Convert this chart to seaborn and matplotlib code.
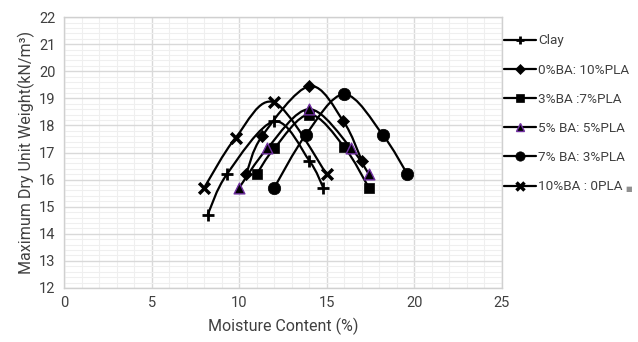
import numpy as np
import pandas as pd
import matplotlib
matplotlib.use("Agg")
import matplotlib.pyplot as plt
import seaborn as sns
from matplotlib.path import Path
from matplotlib.patches import PathPatch
from matplotlib.lines import Line2D
from matplotlib.ticker import MultipleLocator

# data
series_names = ['Clay', '0%BA: 10%PLA', '3%BA :7%PLA', '5% BA: 5%PLA', '7% BA: 3%PLA', '10%BA : 0PLA']

clay_x = [8.2, 9.3, 12.0, 14.0, 14.8]
clay_y = [14.7, 16.2, 18.15, 16.7, 15.7]
ba0_x = [10.4, 11.3, 14.0, 15.95, 17.0]
ba0_y = [16.2, 17.6, 19.45, 18.15, 16.7]
ba3_x = [11.0, 12.0, 14.0, 16.0, 17.4]
ba3_y = [16.2, 17.15, 18.4, 17.2, 15.7]
ba5_x = [10.0, 11.6, 14.0, 16.4, 17.4]
ba5_y = [15.7, 17.15, 18.6, 17.15, 16.2]
ba7_x = [12.0, 13.8, 16.0, 18.2, 19.6]
ba7_y = [15.7, 17.65, 19.15, 17.65, 16.2]
ba10_x = [8.0, 9.8, 12.0, 15.0]
ba10_y = [15.7, 17.55, 18.85, 16.2]

xs = [clay_x, ba0_x, ba3_x, ba5_x, ba7_x, ba10_x]
ys = [clay_y, ba0_y, ba3_y, ba5_y, ba7_y, ba10_y]

# marker styling per series
markers = ['+', 'D', 's', '^', 'o', 'x']
msizes = [70, 38, 55, 60, 80, 60]
faces = ['black', 'black', 'black', 'black', 'black', 'black']
edges = ['black', 'black', 'black', '#7030a0', 'black', 'black']
mews = [2.0, 0.5, 0.5, 1.0, 0.5, 2.5]

sns.set_style('white')
plt.rcParams['font.family'] = ['Roboto', 'DejaVu Sans']

fig = plt.figure(figsize=(6.38, 3.42), dpi=100)
ax = fig.add_axes([0.1003, 0.158, 0.6865, 0.792])


def smooth_path(x, y):
    # excel-like smoothed line: bezier segments through the points
    pts = np.column_stack([x, y])
    n = len(pts)
    verts = [pts[0]]
    codes = [Path.MOVETO]
    for i in range(n - 1):
        p0 = pts[i - 1] if i > 0 else pts[i]
        p1 = pts[i]
        p2 = pts[i + 1]
        p3 = pts[i + 2] if i + 2 < n else pts[i + 1]
        c1 = p1 + (p2 - p0) / 6.0
        c2 = p2 - (p3 - p1) / 6.0
        verts += [c1, c2, p2]
        codes += [Path.CURVE4] * 3
    return Path(verts, codes)


for i, name in enumerate(series_names):
    patch = PathPatch(smooth_path(xs[i], ys[i]), facecolor='none',
                      edgecolor='black', lw=1.6, zorder=2)
    ax.add_patch(patch)
    df = pd.DataFrame({'x': xs[i], 'y': ys[i]})
    sns.scatterplot(data=df, x='x', y='y', ax=ax, marker=markers[i],
                    s=msizes[i], color=faces[i], edgecolor=edges[i],
                    linewidth=mews[i], zorder=3)

ax.set_xlim(0, 25)
ax.set_ylim(12, 22)
ax.xaxis.set_major_locator(MultipleLocator(5))
ax.xaxis.set_minor_locator(MultipleLocator(1))
ax.yaxis.set_major_locator(MultipleLocator(1))
ax.yaxis.set_minor_locator(MultipleLocator(0.2))
ax.grid(which='major', color='#d9d9d9', lw=1.0)
ax.grid(which='minor', color='#efefef', lw=0.8)
ax.set_axisbelow(True)
for sp in ax.spines.values():
    sp.set_color('#d0d0d0')
    sp.set_linewidth(1.0)
ax.tick_params(which='both', length=0, labelsize=10.5, colors='#404040', pad=6)

ax.set_xlabel('Moisture Content (%)', fontsize=11.5, color='#404040', labelpad=5)
ax.set_ylabel('Maximum Dry Unit Weight(kN/m³)', fontsize=11.5, color='#404040', labelpad=3)

handles = []
for i, name in enumerate(series_names):
    handles.append(Line2D([0], [0], color='black', lw=1.6, marker=markers[i],
                          markersize=np.sqrt(msizes[i]) * 0.75,
                          markerfacecolor=faces[i], markeredgecolor=edges[i],
                          markeredgewidth=mews[i]))
leg = fig.legend(handles, series_names, loc='upper left',
                 bbox_to_anchor=(0.781, 0.915), frameon=False,
                 fontsize=9.7, handlelength=2.4, handletextpad=0.15,
                 labelspacing=1.2, borderaxespad=0)
for t in leg.get_texts():
    t.set_color('#404040')

# small grey square after the last legend entry
fig.text(0.986, 0.445, '■', fontsize=5, color='#909090', ha='center', va='center')

fig.savefig('out.png', dpi=100)
